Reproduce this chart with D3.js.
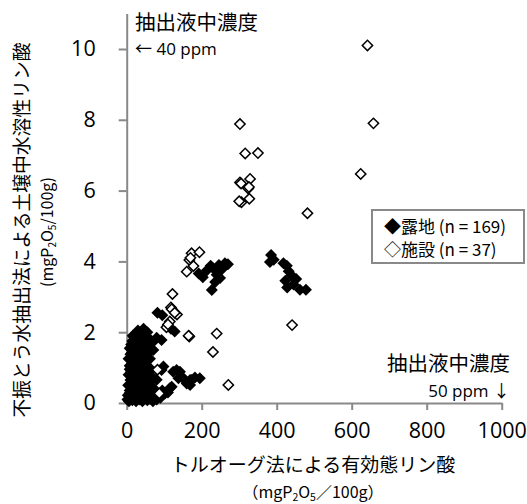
<!DOCTYPE html>
<html><head><meta charset="utf-8">
<script src="https://cdn.jsdelivr.net/npm/d3@7"></script>
<style>
html,body{margin:0;padding:0;background:#fff;}
svg{display:block;}
</style></head>
<body>
<svg id="chart" width="527" height="504"></svg>
<script>
// ---- data ----
const xTicks = [0, 200, 400, 600, 800, 1000];
const yTicks = [0, 2, 4, 6, 8, 10];
const seriesNames = ["露地 (n = 169)", "施設 (n = 37)"];
// 露地 (filled) : [Truog P, water-soluble P]
const rochiX = [385,392,382,418,427,432,440,423,452,428,445,462,478,
192,203,214,224,231,240,249,262,254,227,236,246,270,
82,95,118,128,110,
30,45,38,55,25,40,
20,35,50,62,15,28,93,80,70,
12,22,33,45,58,18,40,71,28,8,
10,20,32,45,55,15,28,40,62,5,50,
8,18,30,42,55,12,25,36,65,98,93,48,
5,15,26,38,50,60,10,20,32,44,70,80,
4,12,22,34,46,56,8,18,28,40,66,75,102,115,120,
2,6,10,15,20,25,30,35,42,48,55,62,70,80,90,3,14,24,38,52,85,
124,133,142,138,147,155,169,173,182,195,169,160,
16,34,48,24,14,36,50,25,38,8,20,30,44,56,12,28,40,52,62,18,30,50,60,8,45,58,75,65,95,110];
const rochiY = [4.18,4.05,3.98,3.95,3.88,3.72,3.6,3.45,3.5,3.26,3.35,3.2,3.2,
3.66,3.55,3.75,3.88,3.8,3.62,3.53,3.95,3.78,3.19,3.42,3.9,3.92,
2.55,2.48,2.1,2.02,2.18,
2.05,2.1,1.98,2.0,1.92,1.97,
1.85,1.82,1.88,1.8,1.75,1.78,1.78,1.84,1.72,
1.65,1.6,1.68,1.62,1.55,1.5,1.52,1.5,1.45,1.55,
1.38,1.3,1.35,1.3,1.4,1.2,1.22,1.18,1.25,1.25,1.12,
1.05,1.0,1.08,0.98,1.02,0.9,0.92,0.88,0.95,1.03,0.93,0.9,
0.8,0.75,0.8,0.72,0.78,0.7,0.65,0.6,0.62,0.6,0.72,0.66,
0.5,0.45,0.5,0.42,0.48,0.4,0.35,0.32,0.3,0.35,0.45,0.38,0.27,0.42,0.46,
0.1,0.05,0.15,0.08,0.12,0.05,0.18,0.1,0.05,0.15,0.08,0.12,0.05,0.1,0.15,0.22,0.25,0.22,0.25,0.25,0.2,
0.88,0.93,0.88,0.7,0.74,0.65,0.65,0.65,0.72,0.7,0.51,0.55,
1.9,1.9,1.72,1.7,1.42,1.45,1.5,1.12,1.28,0.95,0.85,0.95,0.82,0.88,0.55,0.55,0.52,0.62,0.58,0.4,0.4,0.3,0.3,0.28,0.2,0.18,0.22,0.25,0.35,0.3];
// 施設 (open)
const shisetsuX = [642,658,624,482,441,302,316,350,302,329,324,306,327,
173,194,167,178,160,122,118,134,115,106,167,240,230,82,271,87,
305,326,170,120,110,165,300,128];
const shisetsuY = [10.1,7.9,6.47,5.36,2.2,7.88,7.05,7.06,6.23,6.33,6.06,5.67,5.77,
4.23,4.26,4.04,3.87,3.71,3.08,2.7,2.5,2.3,2.14,1.88,1.96,1.44,0.94,0.51,0.27,
6.2,6.1,4.1,2.65,2.22,1.9,5.7,2.55];

// ---- chart ----
const svg = d3.select("#chart");
const axisColor = "#898989";
const numFont = "'Open Sans', sans-serif";
const jpFont = "'Noto Sans CJK JP', sans-serif";

const x = d3.scaleLinear().domain([0, 1000]).range([126.7, 501.7]);
const y = d3.scaleLinear().domain([0, 11]).range([403, 13.6]);

// y axis
const gy = svg.append("g").attr("transform", `translate(${x(0)},0)`)
  .call(d3.axisLeft(y).tickValues(yTicks).tickSize(8).tickSizeOuter(0).tickPadding(23).tickFormat(d3.format("d")));
// x axis
const gx = svg.append("g").attr("transform", `translate(0,${y(0)})`)
  .call(d3.axisBottom(x).tickValues(xTicks).tickSize(7).tickSizeOuter(0).tickPadding(13).tickFormat(d3.format("d")));
[gx, gy].forEach(g => {
  g.select(".domain").attr("stroke", axisColor).attr("stroke-width", 2);
  g.selectAll(".tick line").attr("stroke", axisColor).attr("stroke-width", 2);
  g.selectAll(".tick text").attr("fill", "#000").style("font-family", numFont).style("font-size", "21.5px");
});

// points
const sq = d3.symbol().type(d3.symbolSquare);
const rochi = rochiX.map((v, i) => [v, rochiY[i]]);
const shisetsu = shisetsuX.map((v, i) => [v, shisetsuY[i]]);
svg.append("g").selectAll("path").data(rochi).join("path")
  .attr("d", sq.size(72)())
  .attr("transform", d => `translate(${x(d[0])},${y(d[1])}) rotate(45)`)
  .attr("fill", "#000");
svg.append("g").selectAll("path").data(shisetsu).join("path")
  .attr("d", sq.size(53)())
  .attr("transform", d => `translate(${x(d[0])},${y(d[1])}) rotate(45)`)
  .attr("fill", "#fff").attr("stroke", "#000").attr("stroke-width", 1.5);

// unit label helper (subscripts via dy)
function unitLabel(sel, open, slash, close, subSize) {
  sel.append("tspan").text(open + "mgP");
  sel.append("tspan").attr("dy", 3).style("font-size", subSize + "px").text("2");
  sel.append("tspan").attr("dy", -3).text("O");
  sel.append("tspan").attr("dy", 3).style("font-size", subSize + "px").text("5");
  sel.append("tspan").attr("dy", -3).text(slash + "100g" + close);
}

// axis titles
svg.append("text").attr("x", 313).attr("y", 472)
  .attr("text-anchor", "middle").style("font-family", jpFont).style("font-size", "19px")
  .text("トルオーグ法による有効態リン酸");
const xSub = svg.append("text").attr("x", 313).attr("y", 498)
  .attr("text-anchor", "middle").style("font-family", jpFont).style("font-size", "16px");
unitLabel(xSub, "（", "／", "）", 10.5);

svg.append("text").attr("transform", "translate(29,230) rotate(-90)")
  .attr("text-anchor", "middle").style("font-family", jpFont).style("font-size", "18.8px")
  .text("不振とう水抽出法による土壌中水溶性リン酸");
const ySub = svg.append("text").attr("transform", "translate(53,232) rotate(-90)")
  .attr("text-anchor", "middle").style("font-family", jpFont).style("font-size", "16px");
unitLabel(ySub, "(", "/", ")", 10);

// annotations
svg.append("text").attr("x", 135).attr("y", 30).style("font-family", jpFont).style("font-size", "20.5px").text("抽出液中濃度");
const a1 = svg.append("text").attr("x", 135).attr("y", 55).style("font-family", numFont).style("font-size", "17px");
a1.append("tspan").style("font-family", jpFont).text("←");
a1.append("tspan").text(" 40 ppm");
svg.append("text").attr("x", 510).attr("y", 371).attr("text-anchor", "end").style("font-family", jpFont).style("font-size", "20.5px").text("抽出液中濃度");
const a2 = svg.append("text").attr("x", 510).attr("y", 397).attr("text-anchor", "end").style("font-family", numFont).style("font-size", "17px");
a2.append("tspan").text("50 ppm ");
a2.append("tspan").style("font-family", jpFont).text("↓");

// legend
const lg = svg.append("g");
lg.append("rect").attr("x", 372).attr("y", 210).attr("width", 152).attr("height", 53)
  .attr("fill", "#fff").attr("stroke", axisColor).attr("stroke-width", 2);
const legendMarks = ["◆", "◇"];
seriesNames.forEach((n, i) => {
  lg.append("text").attr("x", 384).attr("y", 233 + i * 23)
    .style("font-family", jpFont).style("font-size", "17px").text(legendMarks[i] + n);
});
</script>
</body></html>
